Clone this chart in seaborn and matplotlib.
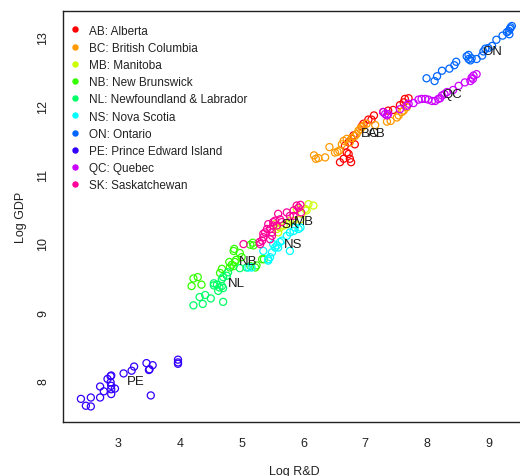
import pandas as pd
import numpy as np
import seaborn as sns
import matplotlib.pyplot as plt
from matplotlib.lines import Line2D

# province codes, names and R rainbow(10) colours
codes = ["AB", "BC", "MB", "NB", "NL", "NS", "ON", "PE", "QC", "SK"]
names = ["Alberta", "British Columbia", "Manitoba", "New Brunswick",
         "Newfoundland & Labrador", "Nova Scotia", "Ontario",
         "Prince Edward Island", "Quebec", "Saskatchewan"]
colors = ["#FF0000", "#FF9900", "#CCFF00", "#33FF00", "#00FF66",
          "#00FFFF", "#0066FF", "#3300FF", "#CC00FF", "#FF0099"]

# (log R&D, log GDP)
ab_pts = [(6.59, 11.18), (6.65, 11.23), (6.70, 11.32), (6.73, 11.30), (6.75, 11.23),
          (6.77, 11.18), (6.67, 11.42), (6.73, 11.47), (6.78, 11.52), (6.83, 11.44),
          (6.81, 11.57), (6.94, 11.70), (6.97, 11.74), (7.05, 11.80), (7.10, 11.80),
          (7.14, 11.86), (7.29, 11.91), (7.37, 11.93), (7.45, 11.94), (7.56, 12.01),
          (7.62, 12.05), (7.64, 12.10), (7.70, 12.11)]
bc_pts = [(6.17, 11.28), (6.20, 11.23), (6.24, 11.24), (6.35, 11.25), (6.42, 11.40),
          (6.51, 11.32), (6.55, 11.33), (6.58, 11.35), (6.62, 11.44), (6.65, 11.49),
          (6.70, 11.52), (6.75, 11.47), (6.78, 11.53), (6.83, 11.56), (6.86, 11.59),
          (6.89, 11.64), (6.92, 11.66), (6.94, 11.69), (6.97, 11.71), (7.02, 11.74),
          (7.16, 11.72), (7.35, 11.77), (7.41, 11.78), (7.51, 11.83), (7.54, 11.86),
          (7.59, 11.91), (7.62, 11.93), (7.67, 11.98)]
mb_pts = [(5.57, 10.21), (5.62, 10.23), (5.68, 10.26), (5.73, 10.28), (5.84, 10.33),
          (5.89, 10.50), (6.03, 10.50), (6.05, 10.48), (6.08, 10.57), (6.16, 10.55),
          (5.95, 10.35), (5.59, 10.16), (5.54, 10.28), (5.78, 10.33), (5.97, 10.43)]
nb_pts = [(4.19, 9.38), (4.22, 9.49), (4.29, 9.51), (4.35, 9.40), (4.65, 9.57),
          (4.68, 9.63), (4.81, 9.65), (4.80, 9.73), (4.84, 9.69), (4.87, 9.67),
          (4.89, 9.73), (4.87, 9.89), (4.88, 9.92), (4.91, 9.76), (4.97, 9.86),
          (5.00, 9.80), (5.14, 9.98), (5.18, 10.01), (5.19, 9.97), (5.14, 9.67),
          (5.22, 9.65), (5.24, 9.68), (5.33, 9.77), (5.36, 9.77)]
nl_pts = [(4.22, 9.10), (4.37, 9.12), (4.32, 9.22), (4.41, 9.25), (4.50, 9.20),
          (4.70, 9.15), (4.55, 9.42), (4.55, 9.39), (4.60, 9.40), (4.64, 9.36),
          (4.68, 9.38), (4.70, 9.35), (4.62, 9.31), (4.68, 9.48), (4.70, 9.51),
          (4.76, 9.53), (4.78, 9.58), (4.97, 9.64), (5.08, 9.65)]
ns_pts = [(5.11, 9.65), (5.16, 9.65), (5.35, 9.89), (5.43, 9.75), (5.46, 9.80),
          (5.51, 9.99), (5.57, 9.97), (5.59, 9.94), (5.62, 10.02), (5.78, 9.89),
          (5.84, 10.18), (5.86, 10.23), (5.92, 10.21), (5.95, 10.23), (5.54, 9.94),
          (5.65, 10.04), (5.73, 10.11), (5.78, 10.16), (5.49, 9.87), (5.43, 9.77)]
on_pts = [(7.99, 12.40), (8.12, 12.36), (8.16, 12.43), (8.24, 12.51), (8.36, 12.54),
          (8.44, 12.59), (8.47, 12.64), (8.64, 12.72), (8.67, 12.68), (8.70, 12.66),
          (8.72, 12.69), (8.80, 12.68), (8.89, 12.73), (8.91, 12.79), (8.94, 12.83),
          (8.99, 12.84), (9.05, 12.87), (9.12, 12.96), (9.22, 13.02), (9.29, 13.07),
          (9.32, 13.09), (9.33, 13.04), (9.34, 13.12), (9.35, 13.14), (9.37, 13.16),
          (8.67, 12.74)]
pe_pts = [(2.40, 7.74), (2.48, 7.64), (2.56, 7.63), (2.56, 7.76), (2.71, 7.76),
          (2.71, 7.92), (2.77, 7.85), (2.83, 8.03), (2.88, 8.07), (2.89, 8.08),
          (2.88, 7.98), (2.89, 7.93), (2.89, 7.88), (2.89, 7.81), (2.95, 7.89),
          (3.09, 8.11), (3.22, 8.15), (3.26, 8.21), (3.46, 8.26), (3.50, 8.16),
          (3.51, 8.17), (3.56, 8.23), (3.53, 7.79), (3.97, 8.31), (3.97, 8.27),
          (3.97, 8.25)]
qc_pts = [(7.29, 11.91), (7.32, 11.88), (7.35, 11.86), (7.37, 11.88), (7.56, 11.95),
          (7.67, 12.00), (7.70, 12.03), (7.78, 12.04), (7.86, 12.09), (7.91, 12.10),
          (7.97, 12.10), (8.02, 12.09), (8.08, 12.07), (8.13, 12.07), (8.18, 12.10),
          (8.21, 12.11), (8.24, 12.15), (8.28, 12.17), (8.32, 12.20), (8.42, 12.23),
          (8.51, 12.29), (8.61, 12.34), (8.70, 12.36), (8.72, 12.41), (8.75, 12.44),
          (8.80, 12.46), (8.74, 12.39)]
sk_pts = [(5.03, 9.99), (5.29, 10.02), (5.30, 9.99), (5.33, 10.04), (5.35, 10.14),
          (5.35, 10.09), (5.38, 10.16), (5.41, 10.21), (5.43, 10.28), (5.46, 10.21),
          (5.49, 10.16), (5.51, 10.26), (5.51, 10.31), (5.54, 10.33), (5.59, 10.43),
          (5.57, 10.26), (5.62, 10.35), (5.65, 10.31), (5.73, 10.45), (5.78, 10.40),
          (5.84, 10.48), (5.89, 10.55), (5.92, 10.52), (5.95, 10.56), (5.96, 10.45),
          (5.84, 10.40), (5.46, 10.06), (5.49, 10.11)]

# where the province codes are written
label_x = [7.18, 7.08, 6.00, 5.11, 4.92, 5.84, 9.06, 3.29, 8.40, 5.78]
label_y = [11.60, 11.60, 10.32, 9.75, 9.42, 9.99, 12.80, 8.00, 12.17, 10.28]

all_pts = [ab_pts, bc_pts, mb_pts, nb_pts, nl_pts, ns_pts, on_pts, pe_pts, qc_pts, sk_pts]
rows = []
for code, pts in zip(codes, all_pts):
    for x, y in pts:
        rows.append((code, x, y))
df = pd.DataFrame(rows, columns=["prov", "rd", "gdp"])

sns.set_style("white")
plt.rcParams['font.family'] = ['Liberation Sans', 'DejaVu Sans']

fig = plt.figure(figsize=(5.2, 4.77), dpi=100)
ax = fig.add_axes([63 / 520, 1 - 423 / 477, 462 / 520, 411 / 477])

palette = dict(zip(codes, colors))
for code in codes:
    sub = df[df.prov == code]
    sns.scatterplot(data=sub, x="rd", y="gdp", ax=ax, s=26, marker="o",
                    facecolors="none", edgecolor=palette[code], linewidth=0.9,
                    legend=False, zorder=2)

for code, lx, ly in zip(codes, label_x, label_y):
    ax.text(lx, ly, code, ha="center", va="center", fontsize=9.5,
            color="#1a1a1a", zorder=3)

ax.set_xlim(2.110, 9.583)
ax.set_ylim(7.404, 13.378)
ax.set_xticks(range(3, 10))
ax.set_yticks(range(8, 14))
ax.tick_params(direction="out", length=5, width=0.8, color="#333333",
               labelsize=9, labelcolor="#222222")
ax.tick_params(axis="x", pad=6)
ax.tick_params(axis="y", pad=5)
for lab in ax.get_yticklabels():
    lab.set_rotation(90)
    lab.set_va("center")
for sp in ax.spines.values():
    sp.set_color("#222222")
    sp.set_linewidth(1.0)
ax.set_xlabel("Log R&D", fontsize=9, color="#222222", labelpad=11)
ax.set_ylabel("Log GDP", fontsize=9, color="#222222", labelpad=7)

handles = [Line2D([], [], marker="o", linestyle="none", markersize=3.6,
                  markerfacecolor=c, markeredgecolor=c) for c in colors]
labels = [f"{c}: {n}" for c, n in zip(codes, names)]
ax.legend(handles, labels, loc="upper left", bbox_to_anchor=(-0.0015, 0.987),
          frameon=False, fontsize=8.5, labelspacing=0.44, handlelength=0.8,
          handletextpad=0.73, borderaxespad=0.3, labelcolor="#222222")

fig.savefig("out.png", dpi=100)
